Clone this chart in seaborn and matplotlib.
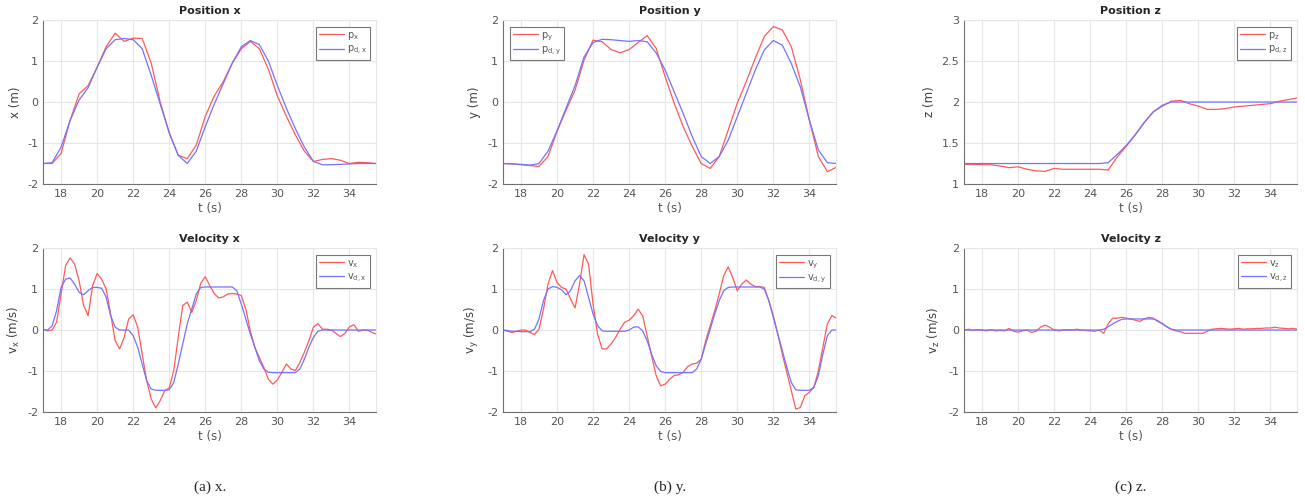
import numpy as np
import pandas as pd
import matplotlib
matplotlib.use("Agg")
import matplotlib.pyplot as plt
import seaborn as sns

# time grids (s)
t_pos = np.arange(17.0, 35.51, 0.5)
t_vel = np.arange(17.0, 35.51, 0.25)

# positions, every 0.5 s
p_x = [-1.5, -1.5, -1.25, -0.45, 0.2, 0.4, 0.85, 1.35, 1.68, 1.48, 1.56, 1.55, 0.95, 0.0,
       -0.75, -1.3, -1.38, -1.05, -0.35, 0.15, 0.5, 0.95, 1.3, 1.48, 1.3, 0.8, 0.15, -0.35,
       -0.8, -1.2, -1.45, -1.4, -1.38, -1.42, -1.5, -1.47, -1.48, -1.5]
pd_x = [-1.5, -1.48, -1.1, -0.45, 0.05, 0.35, 0.85, 1.3, 1.52, 1.55, 1.52, 1.3, 0.65, -0.05,
        -0.75, -1.3, -1.5, -1.2, -0.6, -0.05, 0.45, 0.95, 1.35, 1.5, 1.4, 1.0, 0.4, -0.15,
        -0.65, -1.1, -1.45, -1.53, -1.53, -1.52, -1.51, -1.5, -1.5, -1.5]
p_y = [-1.5, -1.51, -1.53, -1.55, -1.57, -1.33, -0.72, -0.2, 0.29, 1.02, 1.51, 1.47, 1.28, 1.2,
       1.28, 1.45, 1.62, 1.31, 0.62, -0.03, -0.6, -1.08, -1.5, -1.62, -1.33, -0.68, -0.03, 0.5,
       1.07, 1.6, 1.84, 1.76, 1.35, 0.54, -0.44, -1.33, -1.7, -1.59]
pd_y = [-1.5, -1.51, -1.52, -1.54, -1.5, -1.2, -0.7, -0.15, 0.4, 1.1, 1.45, 1.53, 1.52, 1.5,
        1.48, 1.5, 1.47, 1.2, 0.78, 0.25, -0.28, -0.84, -1.33, -1.5, -1.33, -0.93, -0.36, 0.21,
        0.78, 1.27, 1.5, 1.39, 0.94, 0.37, -0.44, -1.17, -1.48, -1.5]
p_z = [1.24, 1.24, 1.235, 1.235, 1.22, 1.2, 1.21, 1.18, 1.16, 1.155, 1.19, 1.18, 1.18, 1.18,
       1.18, 1.18, 1.17, 1.33, 1.46, 1.6, 1.75, 1.88, 1.95, 2.01, 2.02, 1.98, 1.95, 1.91,
       1.91, 1.92, 1.94, 1.95, 1.96, 1.97, 1.98, 2.01, 2.03, 2.05]
pd_z = [1.25, 1.25, 1.25, 1.25, 1.25, 1.25, 1.25, 1.25, 1.25, 1.25, 1.25, 1.25, 1.25, 1.25,
        1.25, 1.25, 1.26, 1.36, 1.47, 1.6, 1.75, 1.88, 1.96, 2.0, 2.0, 2.0, 2.0, 2.0,
        2.0, 2.0, 2.0, 2.0, 2.0, 2.0, 2.0, 2.0, 2.0, 2.0]

# velocities, every 0.25 s
v_x = [0.02, -0.02, 0.0, 0.19, 0.88, 1.57, 1.76, 1.61, 1.2, 0.6, 0.35, 1.08, 1.38, 1.24, 1.0,
       0.39, -0.26, -0.46, -0.18, 0.27, 0.37, 0.07, -0.59, -1.24, -1.68, -1.9, -1.72, -1.48,
       -1.41, -0.99, -0.18, 0.6, 0.68, 0.43, 0.72, 1.14, 1.3, 1.08, 0.89, 0.78, 0.81, 0.88,
       0.89, 0.88, 0.84, 0.51, -0.02, -0.42, -0.67, -0.91, -1.2, -1.32, -1.22, -1.03, -0.83,
       -0.95, -0.99, -0.79, -0.54, -0.26, 0.07, 0.16, 0.02, 0.02, 0.0, -0.08, -0.16, -0.08,
       0.08, 0.13, -0.03, 0.0, 0.0, -0.06, -0.1]
vd_x = [0.0, 0.0, 0.1, 0.47, 1.04, 1.24, 1.27, 1.12, 0.92, 0.86, 0.96, 1.04, 1.04, 1.02, 0.8,
        0.35, 0.07, 0.0, 0.0, 0.0, -0.14, -0.42, -0.83, -1.24, -1.44, -1.47, -1.47, -1.47,
        -1.46, -1.28, -0.83, -0.34, 0.15, 0.51, 0.88, 1.04, 1.05, 1.05, 1.05, 1.05, 1.05, 1.05,
        1.05, 0.96, 0.63, 0.27, -0.1, -0.42, -0.75, -0.95, -1.03, -1.04, -1.04, -1.04, -1.04,
        -1.04, -1.04, -0.95, -0.71, -0.42, -0.18, -0.03, 0.0, 0.0, 0.0, 0.0, 0.0, 0.0,
        0.0, 0.0, 0.0, 0.0, 0.0, 0.0, 0.0]
v_y = [0.0, -0.03, -0.06, -0.03, 0.0, 0.0, -0.06, -0.11, 0.02, 0.51, 1.12, 1.45, 1.16, 1.04,
       1.0, 0.76, 0.54, 1.12, 1.84, 1.61, 0.63, -0.1, -0.46, -0.46, -0.34, -0.18, 0.02, 0.19,
       0.24, 0.35, 0.51, 0.35, -0.14, -0.63, -1.11, -1.36, -1.32, -1.2, -1.11, -1.09, -1.03,
       -0.89, -0.83, -0.81, -0.71, -0.26, 0.11, 0.47, 0.88, 1.33, 1.54, 1.28, 0.96, 1.12,
       1.22, 1.12, 1.06, 1.06, 1.04, 0.72, 0.35, -0.1, -0.59, -1.03, -1.48, -1.93, -1.89,
       -1.6, -1.52, -1.4, -1.0, -0.42, 0.15, 0.35, 0.29]
vd_y = [0.0, -0.01, -0.03, -0.03, -0.04, -0.04, -0.04, 0.02, 0.27, 0.72, 1.0, 1.06, 1.04, 0.98,
        0.86, 0.96, 1.2, 1.33, 1.2, 0.8, 0.39, 0.11, -0.02, -0.03, -0.03, -0.03, -0.03, -0.03,
        0.0, 0.07, 0.08, -0.02, -0.26, -0.59, -0.87, -1.01, -1.04, -1.04, -1.04, -1.04, -1.04,
        -1.04, -1.04, -0.95, -0.71, -0.34, 0.02, 0.39, 0.72, 0.96, 1.04, 1.05, 1.05, 1.05,
        1.05, 1.05, 1.05, 1.05, 1.0, 0.72, 0.31, -0.1, -0.5, -0.91, -1.28, -1.46, -1.47,
        -1.47, -1.47, -1.4, -1.11, -0.59, -0.14, 0.0, 0.0]
v_z = [0.0, 0.02, -0.01, 0.01, 0.0, -0.02, 0.01, -0.02, -0.01, -0.02, 0.04, -0.03, -0.05,
       -0.02, 0.0, -0.06, -0.03, 0.07, 0.12, 0.07, 0.0, -0.02, 0.0, 0.01, 0.0, 0.02, 0.0,
       -0.01, -0.02, -0.03, 0.0, -0.08, 0.15, 0.29, 0.29, 0.31, 0.29, 0.27, 0.24, 0.21, 0.27,
       0.31, 0.29, 0.21, 0.15, 0.08, 0.02, -0.02, -0.04, -0.08, -0.08, -0.08, -0.08, -0.08,
       -0.03, 0.02, 0.03, 0.04, 0.03, 0.02, 0.03, 0.04, 0.02, 0.03, 0.03, 0.04, 0.04, 0.05,
       0.05, 0.07, 0.05, 0.04, 0.03, 0.04, 0.02]
vd_z = [0.0, 0.0, 0.0, 0.0, 0.0, 0.0, 0.0, 0.0, 0.0, 0.0, 0.0, 0.0, 0.0, 0.0, 0.0, 0.0, 0.0,
        0.0, 0.0, 0.0, 0.0, 0.0, 0.0, 0.0, 0.0, 0.0, 0.0, 0.0, 0.0, 0.0, 0.0, 0.02, 0.08,
        0.15, 0.21, 0.26, 0.27, 0.27, 0.27, 0.27, 0.27, 0.27, 0.27, 0.23, 0.16, 0.08, 0.02,
        0.0, 0.0, 0.0, 0.0, 0.0, 0.0, 0.0, 0.0, 0.0, 0.0, 0.0, 0.0, 0.0, 0.0, 0.0, 0.0,
        0.0, 0.0, 0.0, 0.0, 0.0, 0.0, 0.0, 0.0, 0.0, 0.0, 0.0, 0.0]

captions = ["(a) x.", "(b) y.", "(c) z."]

sns.set_style("white")
plt.rcParams['font.family'] = ['DejaVu Sans']

RED = (1.0, 0.35, 0.35)
BLUE = (0.45, 0.45, 1.0)
GRAY = '#555555'

fig = plt.figure(figsize=(13.05, 5.01), dpi=100)
lefts = [0.0330, 0.3854, 0.7387]
w, h = 0.2555, 0.3273
bottoms = [0.6327, 0.1776]

panels = [
    # (row, col, t, meas, des, title, ylabel, lab_m, lab_d, ylim, yticks, legend loc)
    (0, 0, t_pos, p_x, pd_x, 'Position x', 'x (m)', r'p$_\mathregular{x}$', r'p$_\mathregular{d,x}$', (-2, 2), [-2, -1, 0, 1, 2], 'upper right'),
    (0, 1, t_pos, p_y, pd_y, 'Position y', 'y (m)', r'p$_\mathregular{y}$', r'p$_\mathregular{d,y}$', (-2, 2), [-2, -1, 0, 1, 2], 'upper left'),
    (0, 2, t_pos, p_z, pd_z, 'Position z', 'z (m)', r'p$_\mathregular{z}$', r'p$_\mathregular{d,z}$', (1, 3), [1, 1.5, 2, 2.5, 3], 'upper right'),
    (1, 0, t_vel, v_x, vd_x, 'Velocity x', r'v$_\mathregular{x}$ (m/s)', r'v$_\mathregular{x}$', r'v$_\mathregular{d,x}$', (-2, 2), [-2, -1, 0, 1, 2], 'upper right'),
    (1, 1, t_vel, v_y, vd_y, 'Velocity y', r'v$_\mathregular{y}$ (m/s)', r'v$_\mathregular{y}$', r'v$_\mathregular{d,y}$', (-2, 2), [-2, -1, 0, 1, 2], 'upper right'),
    (1, 2, t_vel, v_z, vd_z, 'Velocity z', r'v$_\mathregular{z}$ (m/s)', r'v$_\mathregular{z}$', r'v$_\mathregular{d,z}$', (-2, 2), [-2, -1, 0, 1, 2], 'upper right'),
]

for row, col, t, meas, des, title, ylab, lm, ld, ylim, yt, loc in panels:
    ax = fig.add_axes([lefts[col], bottoms[row], w, h])
    df = pd.DataFrame({'t': np.concatenate([t, t]),
                       'val': np.concatenate([meas, des]),
                       'series': [lm] * len(t) + [ld] * len(t)})
    sns.lineplot(data=df, x='t', y='val', hue='series', palette=[RED, BLUE],
                 linewidth=0.9, ax=ax, legend=True)
    ax.set_xlim(17, 35.5)
    ax.set_ylim(*ylim)
    ax.set_xticks(range(18, 35, 2))
    ax.set_yticks(yt)
    ax.set_yticklabels([('%g' % v) for v in yt])
    ax.grid(True, color='#e6e6e6', linewidth=0.8)
    ax.set_axisbelow(True)
    for s in ['top', 'right']:
        ax.spines[s].set_color('#e6e6e6')
    for s in ['left', 'bottom']:
        ax.spines[s].set_color('#707070')
        ax.spines[s].set_linewidth(0.8)
    ax.tick_params(direction='in', length=3, width=0.6, colors='#707070',
                   labelcolor=GRAY, labelsize=8)
    ax.set_title(title, fontsize=8, fontweight='bold', pad=4)
    ax.set_xlabel('t (s)', fontsize=8.5, color=GRAY, labelpad=2)
    ax.set_ylabel(ylab, fontsize=8.5, color='#404040', labelpad=4)
    leg = ax.legend(loc=loc, fontsize=7, frameon=True, fancybox=False, framealpha=1,
                    edgecolor='#777777', handlelength=2.6, borderaxespad=0.7,
                    borderpad=0.3, labelspacing=0.2, handletextpad=0.3)
    leg.get_frame().set_linewidth(0.8)
    for txt in leg.get_texts():
        txt.set_color(GRAY)

for col, cap in enumerate(captions):
    fig.text(lefts[col] + w / 2, 0.028, cap, ha='center', va='center',
             fontsize=11, family='Liberation Serif')

fig.savefig('out.png', dpi=100)
